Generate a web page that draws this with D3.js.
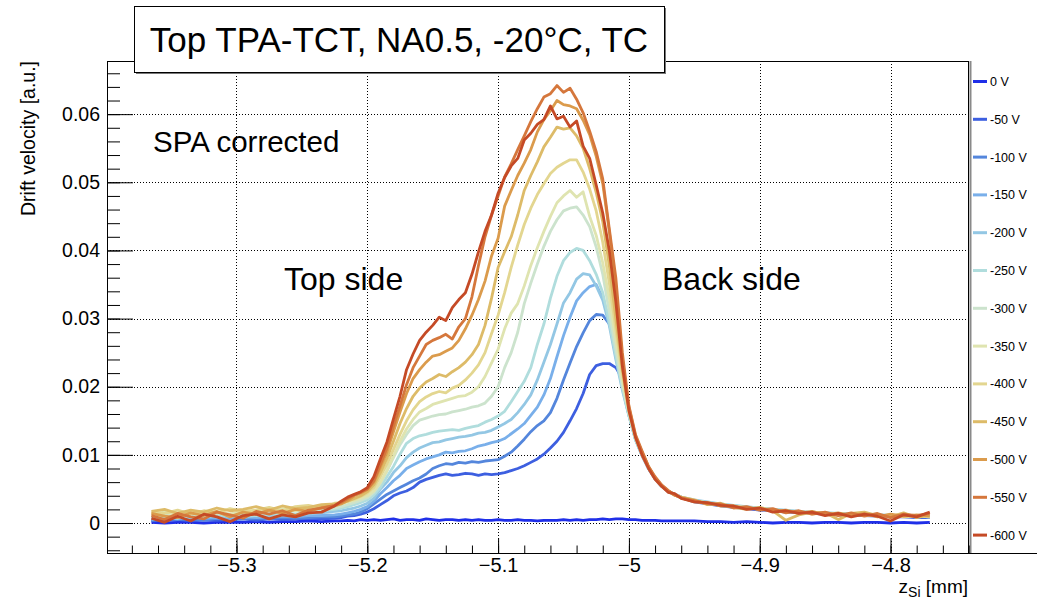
<!DOCTYPE html>
<html>
<head>
<meta charset="utf-8">
<script src="https://cdn.jsdelivr.net/npm/d3@7"></script>
<style>
  body { margin: 0; background: #fff; }
  svg { display: block; }
  text { font-family: "Liberation Sans", Arial, Helvetica, sans-serif; }
</style>
</head>
<body>
<svg id="chart" width="1037" height="600"></svg>
<script>
// Scan positions along the beam axis, z_Si [mm]
const zSi = [
  -5.365,-5.355,-5.345,-5.335,-5.325,-5.315,-5.305,-5.295,-5.285,-5.275,-5.265,-5.255,-5.245,-5.235,-5.225,
  -5.22,-5.215,-5.21,-5.205,-5.2,-5.195,-5.19,-5.185,-5.18,-5.175,-5.17,-5.165,-5.16,-5.155,-5.15,
  -5.145,-5.14,-5.135,-5.13,-5.125,-5.12,-5.115,-5.11,-5.105,-5.1,-5.095,-5.09,-5.085,-5.08,-5.075,
  -5.07,-5.065,-5.06,-5.055,-5.05,-5.045,-5.04,-5.035,-5.03,-5.025,-5.02,-5.015,-5.01,-5.005,-5,
  -4.995,-4.99,-4.985,-4.98,-4.975,-4.97,-4.965,-4.96,
  -4.95,-4.94,-4.93,-4.92,-4.91,-4.9,-4.89,-4.88,-4.87,-4.86,-4.85,-4.84,-4.83,-4.82,-4.81,-4.8,-4.79,-4.78,-4.77
];

// Drift velocity [a.u.] per bias voltage, one value per scan position
const drift0V = [
  0.0001,0.0000,0.0001,0.0001,0.0000,0.0001,0.0001,0.0001,0.0002,0.0001,0.0002,0.0002,0.0003,0.0002,0.0003,
  0.0003,0.0004,0.0003,0.0005,0.0004,0.0005,0.0004,0.0005,0.0006,0.0004,0.0005,0.0005,0.0004,0.0006,0.0005,
  0.0004,0.0005,0.0005,0.0004,0.0005,0.0004,0.0005,0.0004,0.0004,0.0005,0.0004,0.0004,0.0005,0.0004,0.0004,
  0.0003,0.0004,0.0004,0.0004,0.0005,0.0004,0.0005,0.0004,0.0005,0.0005,0.0006,0.0005,0.0006,0.0006,0.0005,
  0.0005,0.0004,0.0004,0.0004,0.0003,0.0003,0.0003,0.0003,
  0.0003,0.0002,0.0002,0.0001,0.0002,0.0001,0.0000,0.0001,0.0001,0.0000,0.0001,0.0001,0.0000,0.0001,0.0001,0.0000,0.0001,0.0000,0.0001
];
const drift50V = [
  0.0003,0.0004,0.0005,0.0003,0.0005,0.0004,0.0005,0.0006,0.0004,0.0006,0.0005,0.0006,0.0007,0.0006,0.0007,
  0.0008,0.0010,0.0011,0.0013,0.0016,0.0021,0.0027,0.0033,0.0040,0.0044,0.0047,0.0052,0.0060,0.0064,0.0067,
  0.0070,0.0072,0.0070,0.0071,0.0073,0.0072,0.0070,0.0072,0.0071,0.0072,0.0074,0.0077,0.0080,0.0084,0.0089,
  0.0094,0.0101,0.0110,0.0120,0.0133,0.0150,0.0168,0.0190,0.0218,0.0231,0.0234,0.0234,0.0228,0.0212,0.0165,
  0.0125,0.0100,0.0080,0.0065,0.0054,0.0047,0.0042,0.0038,
  0.0031,0.0028,0.0025,0.0023,0.0021,0.0019,0.0018,0.0016,0.0015,0.0014,0.0013,0.0012,0.0011,0.0011,0.0010,0.0009,0.0009,0.0008,0.0008
];
const drift100V = [
  0.0004,0.0006,0.0005,0.0006,0.0004,0.0007,0.0005,0.0006,0.0007,0.0006,0.0008,0.0007,0.0008,0.0009,0.0009,
  0.0010,0.0012,0.0013,0.0016,0.0021,0.0028,0.0035,0.0042,0.0047,0.0052,0.0057,0.0062,0.0066,0.0072,0.0080,
  0.0084,0.0087,0.0086,0.0089,0.0088,0.0090,0.0089,0.0091,0.0092,0.0093,0.0098,0.0104,0.0113,0.0123,0.0134,
  0.0143,0.0150,0.0162,0.0183,0.0210,0.0235,0.0259,0.0279,0.0297,0.0306,0.0305,0.0292,0.0262,0.0210,0.0160,
  0.0124,0.0100,0.0080,0.0065,0.0054,0.0046,0.0041,0.0037,
  0.0032,0.0029,0.0026,0.0024,0.0022,0.0020,0.0019,0.0017,0.0016,0.0015,0.0014,0.0013,0.0012,0.0011,0.0011,0.0010,0.0010,0.0009,0.0009
];
const drift150V = [
  0.0005,0.0008,0.0006,0.0009,0.0007,0.0008,0.0006,0.0009,0.0008,0.0009,0.0010,0.0009,0.0011,0.0011,0.0012,
  0.0013,0.0015,0.0017,0.0020,0.0024,0.0032,0.0043,0.0052,0.0062,0.0070,0.0080,0.0085,0.0090,0.0094,0.0097,
  0.0100,0.0104,0.0103,0.0105,0.0106,0.0109,0.0113,0.0115,0.0118,0.0120,0.0124,0.0131,0.0138,0.0146,0.0158,
  0.0170,0.0188,0.0212,0.0244,0.0275,0.0302,0.0326,0.0338,0.0347,0.0350,0.0330,0.0296,0.0248,0.0200,0.0158,
  0.0123,0.0099,0.0080,0.0066,0.0055,0.0047,0.0042,0.0038,
  0.0033,0.0030,0.0027,0.0025,0.0023,0.0021,0.0019,0.0018,0.0016,0.0015,0.0014,0.0013,0.0013,0.0012,0.0011,0.0011,0.0010,0.0010,0.0009
];
const drift200V = [
  0.0009,0.0007,0.0010,0.0008,0.0011,0.0009,0.0010,0.0008,0.0011,0.0010,0.0012,0.0011,0.0013,0.0015,0.0017,
  0.0018,0.0020,0.0022,0.0025,0.0029,0.0036,0.0050,0.0060,0.0074,0.0084,0.0096,0.0104,0.0110,0.0114,0.0118,
  0.0119,0.0122,0.0124,0.0126,0.0127,0.0129,0.0132,0.0133,0.0136,0.0141,0.0146,0.0152,0.0162,0.0174,0.0188,
  0.0210,0.0236,0.0262,0.0292,0.0323,0.0338,0.0358,0.0366,0.0364,0.0348,0.0327,0.0290,0.0240,0.0195,0.0157,
  0.0122,0.0099,0.0080,0.0065,0.0054,0.0047,0.0042,0.0038,
  0.0034,0.0031,0.0028,0.0026,0.0024,0.0022,0.0020,0.0019,0.0017,0.0016,0.0015,0.0014,0.0013,0.0013,0.0012,0.0011,0.0011,0.0010,0.0010
];
const drift250V = [
  0.0008,0.0010,0.0007,0.0011,0.0009,0.0012,0.0010,0.0012,0.0011,0.0013,0.0014,0.0013,0.0016,0.0018,0.0020,
  0.0022,0.0024,0.0027,0.0030,0.0034,0.0041,0.0052,0.0068,0.0083,0.0101,0.0117,0.0124,0.0128,0.0130,0.0133,
  0.0135,0.0136,0.0137,0.0136,0.0139,0.0141,0.0143,0.0148,0.0152,0.0157,0.0164,0.0178,0.0193,0.0208,0.0228,
  0.0262,0.0292,0.0330,0.0362,0.0385,0.0397,0.0403,0.0400,0.0385,0.0365,0.0338,0.0295,0.0245,0.0198,0.0158,
  0.0123,0.0100,0.0080,0.0066,0.0054,0.0047,0.0042,0.0037,
  0.0033,0.0030,0.0028,0.0025,0.0023,0.0022,0.0020,0.0018,0.0017,0.0015,0.0015,0.0014,0.0013,0.0012,0.0012,0.0011,0.0010,0.0010,0.0009
];
const drift300V = [
  0.0010,0.0012,0.0009,0.0013,0.0011,0.0014,0.0012,0.0015,0.0013,0.0016,0.0015,0.0018,0.0017,0.0020,0.0022,
  0.0024,0.0027,0.0030,0.0033,0.0037,0.0045,0.0058,0.0076,0.0096,0.0115,0.0130,0.0143,0.0151,0.0154,0.0157,
  0.0159,0.0160,0.0163,0.0165,0.0167,0.0170,0.0172,0.0176,0.0186,0.0200,0.0228,0.0250,0.0280,0.0322,0.0352,
  0.0380,0.0406,0.0428,0.0445,0.0458,0.0462,0.0464,0.0452,0.0435,0.0405,0.0365,0.0310,0.0255,0.0203,0.0160,
  0.0124,0.0100,0.0081,0.0066,0.0054,0.0047,0.0041,0.0037,
  0.0032,0.0030,0.0027,0.0025,0.0023,0.0021,0.0019,0.0018,0.0016,0.0015,0.0014,0.0013,0.0013,0.0012,0.0011,0.0011,0.0010,0.0010,0.0009
];
const drift350V = [
  0.0013,0.0016,0.0012,0.0015,0.0014,0.0017,0.0013,0.0018,0.0016,0.0019,0.0021,0.0018,0.0022,0.0024,0.0026,
  0.0028,0.0031,0.0033,0.0036,0.0040,0.0047,0.0060,0.0077,0.0098,0.0120,0.0138,0.0152,0.0163,0.0168,0.0174,
  0.0177,0.0180,0.0183,0.0186,0.0187,0.0192,0.0200,0.0215,0.0235,0.0255,0.0285,0.0308,0.0322,0.0348,0.0378,
  0.0404,0.0428,0.0450,0.0470,0.0480,0.0488,0.0478,0.0486,0.0450,0.0422,0.0382,0.0330,0.0268,0.0210,0.0163,
  0.0125,0.0101,0.0081,0.0065,0.0054,0.0046,0.0041,0.0037,
  0.0033,0.0029,0.0027,0.0025,0.0022,0.0021,0.0020,0.0017,0.0016,0.0016,0.0013,0.0014,0.0012,0.0012,0.0011,0.0010,0.0011,0.0009,0.0010
];
const drift400V = [
  0.0016,0.0014,0.0019,0.0013,0.0018,0.0015,0.0021,0.0017,0.0019,0.0023,0.0018,0.0024,0.0026,0.0022,0.0029,
  0.0030,0.0033,0.0035,0.0039,0.0044,0.0052,0.0068,0.0086,0.0108,0.0130,0.0150,0.0166,0.0178,0.0185,0.0190,
  0.0193,0.0191,0.0198,0.0202,0.0210,0.0220,0.0232,0.0250,0.0278,0.0305,0.0338,0.0375,0.0408,0.0438,0.0462,
  0.0482,0.0498,0.0513,0.0522,0.0528,0.0533,0.0533,0.0515,0.0490,0.0458,0.0412,0.0352,0.0285,0.0218,0.0166,
  0.0126,0.0102,0.0082,0.0066,0.0055,0.0047,0.0042,0.0038,
  0.0032,0.0030,0.0026,0.0024,0.0023,0.0020,0.0018,0.0016,0.0017,0.0013,0.0015,0.0012,0.0011,0.0013,0.0010,0.0012,0.0009,0.0011,0.0009
];
const drift450V = [
  0.0017,0.0020,0.0014,0.0019,0.0016,0.0022,0.0018,0.0020,0.0024,0.0019,0.0025,0.0021,0.0023,0.0027,0.0028,
  0.0029,0.0032,0.0036,0.0040,0.0046,0.0056,0.0074,0.0095,0.0120,0.0146,0.0168,0.0186,0.0198,0.0207,0.0212,
  0.0218,0.0215,0.0222,0.0228,0.0236,0.0247,0.0262,0.0290,0.0330,0.0375,0.0398,0.0420,0.0452,0.0488,0.0510,
  0.0530,0.0552,0.0566,0.0581,0.0578,0.0580,0.0568,0.0550,0.0520,0.0485,0.0442,0.0378,0.0300,0.0225,0.0168,
  0.0127,0.0104,0.0082,0.0066,0.0054,0.0047,0.0041,0.0038,
  0.0034,0.0027,0.0029,0.0023,0.0020,0.0023,0.0018,0.0004,0.0012,0.0016,0.0015,0.0005,0.0014,0.0016,0.0011,0.0009,0.0015,0.0008,0.0012
];
const drift500V = [
  0.0014,0.0010,0.0008,0.0015,0.0011,0.0017,0.0009,0.0016,0.0013,0.0019,0.0014,0.0020,0.0017,0.0023,0.0025,
  0.0028,0.0033,0.0040,0.0044,0.0049,0.0060,0.0082,0.0104,0.0134,0.0163,0.0190,0.0212,0.0225,0.0236,0.0245,
  0.0247,0.0252,0.0257,0.0268,0.0285,0.0305,0.0328,0.0355,0.0392,0.0418,0.0465,0.0488,0.0510,0.0528,0.0548,
  0.0574,0.0592,0.0605,0.0620,0.0614,0.0612,0.0608,0.0591,0.0570,0.0538,0.0498,0.0428,0.0345,0.0240,0.0170,
  0.0128,0.0104,0.0083,0.0066,0.0055,0.0047,0.0041,0.0037,
  0.0031,0.0030,0.0025,0.0025,0.0021,0.0022,0.0017,0.0019,0.0014,0.0017,0.0012,0.0015,0.0011,0.0014,0.0009,0.0013,0.0010,0.0012,0.0010
];
const drift550V = [
  0.0011,0.0005,0.0014,0.0009,0.0006,0.0016,0.0012,0.0007,0.0017,0.0013,0.0018,0.0011,0.0019,0.0022,0.0026,
  0.0030,0.0036,0.0041,0.0045,0.0050,0.0062,0.0086,0.0110,0.0142,0.0172,0.0203,0.0228,0.0245,0.0262,0.0268,
  0.0272,0.0277,0.0270,0.0288,0.0300,0.0332,0.0378,0.0420,0.0452,0.0480,0.0508,0.0527,0.0548,0.0568,0.0589,
  0.0608,0.0625,0.0630,0.0642,0.0632,0.0638,0.0622,0.0602,0.0575,0.0545,0.0505,0.0432,0.0360,0.0250,0.0172,
  0.0130,0.0106,0.0083,0.0068,0.0056,0.0048,0.0041,0.0037,
  0.0033,0.0028,0.0028,0.0022,0.0024,0.0019,0.0021,0.0015,0.0018,0.0013,0.0016,0.0011,0.0015,0.0010,0.0014,0.0008,0.0013,0.0011,0.0014
];
const drift600V = [
  0.0007,0.0001,0.0010,0.0003,0.0013,0.0009,0.0002,0.0011,0.0013,0.0006,0.0012,0.0009,0.0015,0.0016,0.0025,
  0.0032,0.0038,0.0042,0.0046,0.0052,0.0068,0.0094,0.0119,0.0153,0.0186,0.0225,0.0248,0.0268,0.0280,0.0290,
  0.0302,0.0297,0.0316,0.0328,0.0338,0.0365,0.0398,0.0428,0.0452,0.0484,0.0507,0.0524,0.0535,0.0562,0.0572,
  0.0585,0.0592,0.0612,0.0593,0.0597,0.0581,0.0590,0.0553,0.0535,0.0496,0.0455,0.0400,0.0325,0.0230,0.0165,
  0.0126,0.0100,0.0080,0.0064,0.0054,0.0045,0.0043,0.0036,
  0.0031,0.0030,0.0026,0.0025,0.0020,0.0022,0.0016,0.0018,0.0014,0.0016,0.0011,0.0014,0.0009,0.0013,0.0010,0.0003,0.0012,0.0009,0.0016
];

const biasLabels = ["0 V", "-50 V", "-100 V", "-150 V", "-200 V", "-250 V", "-300 V",
                    "-350 V", "-400 V", "-450 V", "-500 V", "-550 V", "-600 V"];
const driftSeries = [drift0V, drift50V, drift100V, drift150V, drift200V, drift250V, drift300V,
                     drift350V, drift400V, drift450V, drift500V, drift550V, drift600V];
const lineColors = ["#1f2fe8", "#3d5fe0", "#5486dc", "#79afea", "#93c7e4", "#b0dddd", "#cce3cd",
                    "#dfe4b0", "#e3d690", "#ddbb68", "#db9b4c", "#d5773c", "#c54a26"];

const xTickValues = [-5.3, -5.2, -5.1, -5.0, -4.9, -4.8];
const yTickValues = [0, 0.01, 0.02, 0.03, 0.04, 0.05, 0.06];

// ---- layout ----
const frame = { left: 107, right: 969, top: 61, bottom: 553 };
const svg = d3.select("#chart");

const x = d3.scaleLinear().domain([-5.399, -4.74]).range([frame.left, frame.right]);
const y = d3.scaleLinear().domain([-0.0044, 0.0678]).range([frame.bottom, frame.top]);

const crisp = v => Math.round(v) + 0.5;

// dotted grid at the major ticks
const grid = svg.append("g")
  .attr("stroke", "#000").attr("stroke-width", 1).attr("stroke-dasharray", "1,2");
xTickValues.forEach(v => {
  grid.append("line")
    .attr("x1", crisp(x(v))).attr("x2", crisp(x(v)))
    .attr("y1", frame.top).attr("y2", frame.bottom);
});
yTickValues.forEach(v => {
  grid.append("line")
    .attr("x1", frame.left).attr("x2", frame.right)
    .attr("y1", crisp(y(v))).attr("y2", crisp(y(v)));
});

// drift velocity profiles, low bias first so the high bias curves sit on top
const line = d3.line()
  .x((d, i) => x(zSi[i]))
  .y(d => y(d));

const curves = svg.append("g").attr("fill", "none")
  .attr("stroke-width", 2.8).attr("stroke-linejoin", "round");
driftSeries.forEach((vals, k) => {
  curves.append("path")
    .attr("d", line(vals))
    .attr("stroke", lineColors[k]);
});

// axes: ticks drawn inward, ROOT style
const fmt = d3.format("~g");
const yMinor = d3.range(-0.004, 0.0661, 0.002);
const xMinor = d3.range(-5.38, -4.739, 0.02);

function styleAxis(g) {
  g.select(".domain").remove();
  g.selectAll("line").attr("stroke", "#000");
  g.attr("font-family", null).attr("font-size", null);
}

svg.append("g")
  .attr("transform", `translate(${frame.left},0)`)
  .call(d3.axisLeft(y).tickValues(yMinor).tickSize(-13).tickFormat(""))
  .call(styleAxis);

svg.append("g")
  .attr("transform", `translate(${frame.left},0)`)
  .call(d3.axisLeft(y).tickValues(yTickValues).tickSize(-26).tickPadding(7).tickFormat(fmt))
  .call(styleAxis)
  .call(g => g.selectAll("text").attr("font-size", 19.5).attr("fill", "#000"));

svg.append("g")
  .attr("transform", `translate(0,${frame.bottom})`)
  .call(d3.axisBottom(x).tickValues(xMinor).tickSize(-7.5).tickFormat(""))
  .call(styleAxis);

svg.append("g")
  .attr("transform", `translate(0,${frame.bottom})`)
  .call(d3.axisBottom(x).tickValues(xTickValues).tickSize(-15).tickPadding(5).tickFormat(fmt))
  .call(styleAxis)
  .call(g => g.selectAll("text").attr("font-size", 20).attr("fill", "#000"));

// frame
svg.append("rect")
  .attr("x", frame.left + 0.5).attr("y", frame.top + 0.5)
  .attr("width", frame.right - frame.left - 1).attr("height", frame.bottom - frame.top)
  .attr("fill", "none").attr("stroke", "#000");

// axis titles
svg.append("text")
  .attr("transform", `translate(35,${frame.top}) rotate(-90)`)
  .attr("text-anchor", "end")
  .attr("font-size", 19.5)
  .text("Drift velocity [a.u.]");

const xTitle = svg.append("text")
  .attr("x", frame.right - 1).attr("y", 593)
  .attr("text-anchor", "end")
  .attr("font-size", 19);
xTitle.append("tspan").text("z");
xTitle.append("tspan").attr("font-size", 14).attr("dy", 4).text("Si");
xTitle.append("tspan").attr("dy", -4).text(" [mm]");

// in-plot annotations
svg.append("text").attr("x", 153).attr("y", 152).attr("font-size", 29.5).text("SPA corrected");
svg.append("text").attr("x", 284).attr("y", 290).attr("font-size", 32).text("Top side");
svg.append("text").attr("x", 662).attr("y", 290).attr("font-size", 32).text("Back side");

// title box with shadow
const tb = { x: 134, y: 6, w: 530, h: 66 };
svg.append("rect")
  .attr("x", tb.x + 2).attr("y", tb.y + 2).attr("width", tb.w).attr("height", tb.h)
  .attr("fill", "#777");
svg.append("rect")
  .attr("x", tb.x + 0.5).attr("y", tb.y + 0.5).attr("width", tb.w).attr("height", tb.h)
  .attr("fill", "#fff").attr("stroke", "#000");
svg.append("text")
  .attr("x", tb.x + tb.w / 2).attr("y", 52)
  .attr("text-anchor", "middle").attr("font-size", 35)
  .text("Top TPA-TCT, NA0.5, -20°C, TC");

// legend
const legend = svg.append("g");
legend.append("line")
  .attr("x1", frame.right + 1.5).attr("x2", frame.right + 1.5)
  .attr("y1", frame.top).attr("y2", frame.bottom + 1)
  .attr("stroke", "#8a8a8a").attr("stroke-width", 2);
legend.append("line")
  .attr("x1", frame.right).attr("x2", 1037)
  .attr("y1", frame.bottom + 0.5).attr("y2", frame.bottom + 0.5)
  .attr("stroke", "#000");
const rowStep = 37.8;
biasLabels.forEach((lab, k) => {
  const cy = 81.5 + k * rowStep;
  legend.append("line")
    .attr("x1", 973).attr("x2", 987).attr("y1", cy).attr("y2", cy)
    .attr("stroke", lineColors[k]).attr("stroke-width", 3);
  legend.append("text")
    .attr("x", 990).attr("y", cy).attr("dy", "0.36em")
    .attr("font-size", 12.5).text(lab);
});
</script>
</body>
</html>
